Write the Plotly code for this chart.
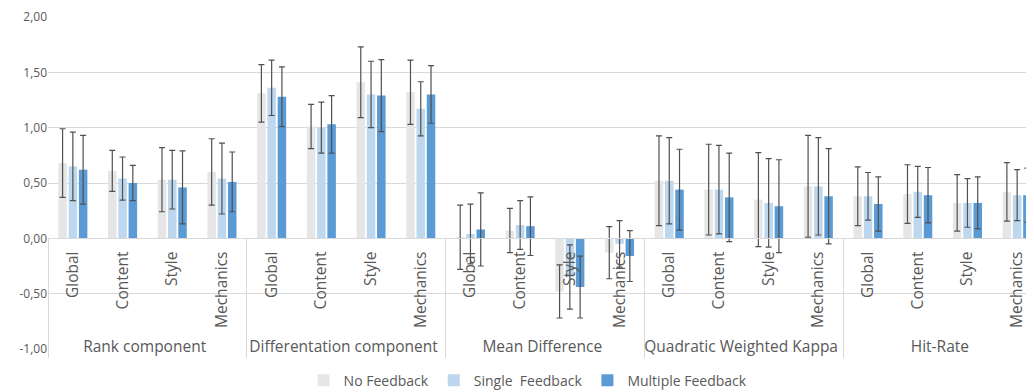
import plotly.graph_objects as go

groups = ["Rank component", "Differentation component", "Mean Difference",
          "Quadratic Weighted Kappa", "Hit-Rate"]
subs = ["Global", "Content", "Style", "Mechanics"]

series_names = ["No Feedback", "Single\u00a0 Feedback", "Multiple Feedback"]
series_colors = ["#E7E6E6", "#BDD7EE", "#5B9BD5"]

no_feedback = [0.68, 0.61, 0.53, 0.60,
               1.31, 1.01, 1.41, 1.32,
               0.01, 0.07, -0.48, -0.13,
               0.52, 0.44, 0.35, 0.47,
               0.38, 0.40, 0.32, 0.42]
no_feedback_sd = [0.31, 0.185, 0.29, 0.30,
                  0.26, 0.20, 0.32, 0.29,
                  0.29, 0.20, 0.24, 0.235,
                  0.405, 0.41, 0.425, 0.46,
                  0.265, 0.265, 0.255, 0.265]

single_feedback = [0.65, 0.54, 0.53, 0.54,
                   1.36, 1.00, 1.30, 1.17,
                   0.04, 0.12, -0.35, -0.05,
                   0.52, 0.44, 0.32, 0.47,
                   0.38, 0.42, 0.32, 0.39]
single_feedback_sd = [0.31, 0.195, 0.265, 0.32,
                      0.25, 0.23, 0.30, 0.245,
                      0.27, 0.22, 0.29, 0.21,
                      0.39, 0.40, 0.40, 0.44,
                      0.215, 0.23, 0.22, 0.23]

multiple_feedback = [0.62, 0.50, 0.46, 0.51,
                     1.28, 1.03, 1.29, 1.30,
                     0.08, 0.11, -0.44, -0.16,
                     0.44, 0.37, 0.29, 0.38,
                     0.31, 0.39, 0.32, 0.39]
multiple_feedback_sd = [0.31, 0.16, 0.33, 0.27,
                        0.27, 0.26, 0.325, 0.26,
                        0.33, 0.265, 0.28, 0.23,
                        0.365, 0.40, 0.42, 0.43,
                        0.245, 0.25, 0.235, 0.245]

y_tickvals = [-1.0, -0.5, 0.0, 0.5, 1.0, 1.5, 2.0]
y_ticktext = ["-1,00", "-0,50", "0,00", "0,50", "1,00", "1,50", "2,00"]

x_outer = [g for g in groups for _ in subs]
x_inner = [s for _ in groups for s in subs]

FONT = "Open Sans"
TXT = "#595959"
GRID = "#D9D9D9"

fig = go.Figure()
for name, color, vals, sds in zip(
        series_names, series_colors,
        [no_feedback, single_feedback, multiple_feedback],
        [no_feedback_sd, single_feedback_sd, multiple_feedback_sd]):
    fig.add_trace(go.Bar(
        x=[x_outer, x_inner], y=vals, name=name,
        marker=dict(color=color, line=dict(width=0)),
        error_y=dict(type="data", array=sds, visible=True,
                     color="#505050", thickness=1.2, width=3),
    ))

# the page body adds an 8px offset, so margins are reduced by 8px on top/left
fig.update_layout(
    width=1034, height=392,
    margin=dict(l=40, r=0, t=9, b=51, autoexpand=False),
    paper_bgcolor="white", plot_bgcolor="white",
    barmode="group", bargap=0.38, bargroupgap=0.17,
    font=dict(family=FONT, color=TXT, size=14),
    showlegend=True,
    legend=dict(orientation="h", x=0.483, xanchor="center",
                y=-0.095, yanchor="middle",
                font=dict(family=FONT, size=14, color=TXT),
                bgcolor="rgba(0,0,0,0)"),
    xaxis=dict(type="multicategory", anchor="free", position=1/3,
               range=[-0.5, 19.5], tickangle=-90,
               showline=True, linecolor=GRID, linewidth=1,
               showgrid=False, ticks="",
               showdividers=True, dividercolor=GRID, dividerwidth=1,
               tickfont=dict(family=FONT, size=15.5, color=TXT),
               ticklabelstandoff=6, automargin=False),
    yaxis=dict(range=[-1, 2], tickvals=y_tickvals, ticktext=y_ticktext,
               showgrid=True, gridcolor=GRID, gridwidth=1,
               zeroline=False, showline=False, ticks="",
               tickfont=dict(family=FONT, size=12, color=TXT),
               ticklabelstandoff=0, automargin=False),
)

fig.write_html("out.html")
